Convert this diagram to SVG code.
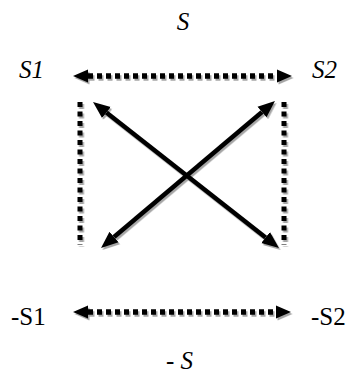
<svg xmlns="http://www.w3.org/2000/svg" width="353" height="376" viewBox="0 0 353 376">
<style>
.lbl{font-family:'Liberation Serif','Times New Roman',Times,serif;font-size:25px;fill:#000}
.it{font-style:italic}
.dash{stroke:#000;stroke-width:5.5;stroke-dasharray:5 4;fill:none}
.vdash{stroke:#000;stroke-width:5;stroke-dasharray:5 4.5;fill:none}
.solid{stroke:#000;stroke-width:4.5;fill:none}
</style>
<defs>
<filter id="sh" x="-20%" y="-20%" width="140%" height="140%">
<feDropShadow dx="1.5" dy="2" stdDeviation="0.6" flood-color="#000" flood-opacity="0.35"/>
</filter>
<marker id="ah" viewBox="0 -7 15 14" refX="0" refY="0" markerWidth="15" markerHeight="14" markerUnits="userSpaceOnUse" orient="auto-start-reverse">
<path d="M0,-6.5 L15,0 L0,6.5 z" fill="#000"/>
</marker>
<marker id="ah2" viewBox="0 -8 17 16" refX="0" refY="0" markerWidth="17" markerHeight="16" markerUnits="userSpaceOnUse" orient="auto-start-reverse">
<path d="M0,-7 L17,0 L0,7 z" fill="#000"/>
</marker>
</defs>
<g id="connectors" filter="url(#sh)">
<line class="dash" x1="88" y1="76" x2="277" y2="76" marker-start="url(#ah)" marker-end="url(#ah)"/>
<line class="dash" x1="88" y1="312" x2="276" y2="312" marker-start="url(#ah)" marker-end="url(#ah)"/>
<line class="vdash" x1="80" y1="102" x2="80" y2="245"/>
<line class="vdash" x1="284" y1="102" x2="284" y2="245"/>
<line class="solid" x1="106.4" y1="112.5" x2="265.6" y2="237.5" marker-start="url(#ah2)" marker-end="url(#ah2)"/>
<line class="solid" x1="262" y1="112" x2="114" y2="237" marker-start="url(#ah2)" marker-end="url(#ah2)"/>
</g>
<g id="node-S"><text class="lbl it" x="183" y="30" text-anchor="middle">S</text></g>
<g id="node-S1"><text class="lbl it" x="19" y="78">S1</text></g>
<g id="node-S2"><text class="lbl it" x="312" y="78">S2</text></g>
<g id="node-negS1"><text class="lbl" x="11" y="325">-S1</text></g>
<g id="node-negS2"><text class="lbl" x="311" y="325">-S2</text></g>
<g id="node-negS"><text class="lbl" x="166" y="369">- <tspan class="it">S</tspan></text></g>
</svg>
